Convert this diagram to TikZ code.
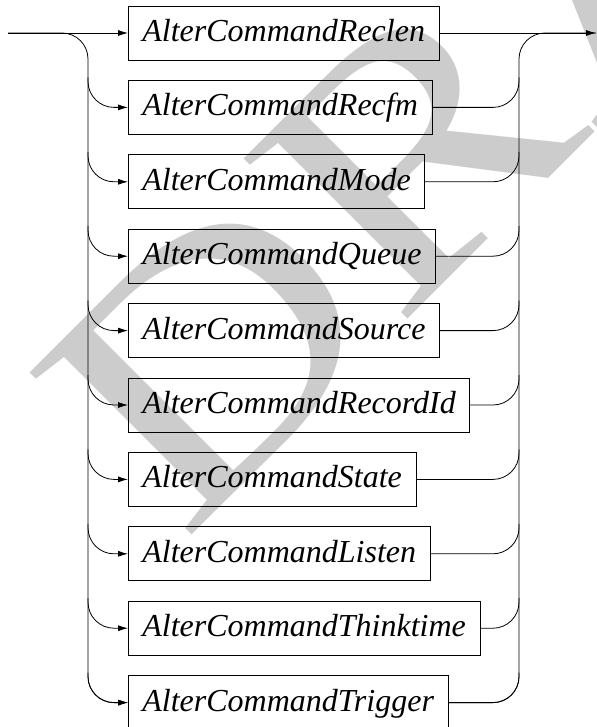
\documentclass[tikz,border=0pt]{standalone}
\usepackage{fontspec}
\setmainfont{Liberation Serif}
\usetikzlibrary{arrows.meta,calc}

\begin{document}
\begin{tikzpicture}[x=0.5pt, y=-0.5pt]
	\tikzstyle{alt} = [ draw, rectangle, thin, anchor=west, minimum height=27pt, inner xsep=7pt, text height=12pt, text depth=3.5pt, font={\fontsize{16}{19}\selectfont\itshape}];
	\tikzstyle{point} = [ -{Latex[length=5pt, width=3pt]}, thin];
	\tikzstyle{rail} = [ thin, rounded corners=13pt];
	\tikzstyle{stamp} = [ anchor=base west, inner sep=0pt, rotate=45, xscale=1.2, text=black!20, font={\fontsize{175}{175}\selectfont}];

	\useasboundingbox (0,0) rectangle (596,727);
	\node[stamp] (draft) at (183,544) {DRAFT};

	\def \alts {Reclen,Recfm,Mode,Queue,Source,RecordId,State,Listen,Thinktime,Trigger}

	\coordinate (in) at (8,33);
	\coordinate (out) at (596,33);
	\coordinate (lr) at (88,33);
	\coordinate (rr) at (519,33);

	\foreach \x [count=\xi] in \alts {
		\node[alt] (\xi) at (128, {33+(\xi-1)*74.4}) {AlterCommand\x};
		\ifnum 1 < \xi
			\draw[point, rail] ($(lr |- \xi.west)+(0,-30)$) |- (\xi.west);
			\draw[rail] (\xi.east) -| ($(rr |- \xi.east)+(0,-30)$);
		\fi
	}

	\draw[point] (in) -- (1.west);
	\draw[point] (1.east) -- (out);
	\draw[point, rail] (in) -| (lr |- 10.west) -- (10.west);
	\draw[rail] (10.east) -| (rr) -- (out);
\end{tikzpicture}
\end{document}
